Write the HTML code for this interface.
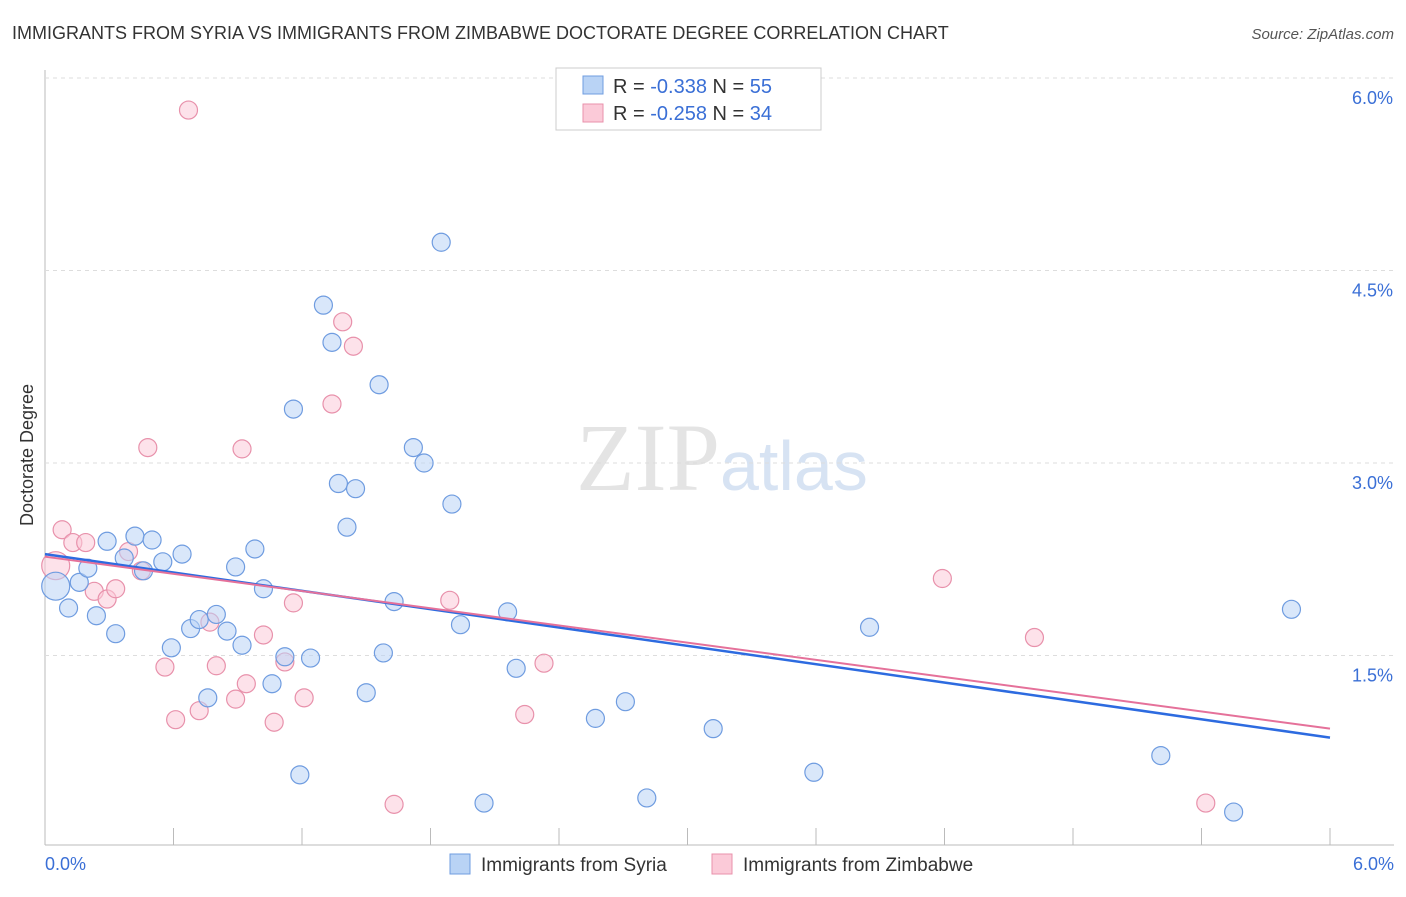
<!DOCTYPE html>
<html><head><meta charset="utf-8"><style>
body{margin:0;background:#fff;font-family:"Liberation Sans",sans-serif}
</style></head><body>
<svg id="c" width="1406" height="892" xmlns="http://www.w3.org/2000/svg">
<text x="12" y="39" font-size="18" fill="#333">IMMIGRANTS FROM SYRIA VS IMMIGRANTS FROM ZIMBABWE DOCTORATE DEGREE CORRELATION CHART</text>
<text x="1394" y="39" font-size="15" fill="#555" font-style="italic" text-anchor="end">Source: ZipAtlas.com</text>
<text x="33" y="455" font-size="18" fill="#333" transform="rotate(-90 33 455)" text-anchor="middle">Doctorate Degree</text>
<text x="720" y="490" font-size="96" fill="#e4e4e4" text-anchor="end" font-family="Liberation Serif">ZIP</text>
<text x="720" y="490" font-size="70" fill="#d7e3f3">atlas</text>
<g id="grid"></g><g id="pts"></g><g id="lines"></g>
<g>
<rect x="556" y="68" width="265" height="62" fill="#fff" stroke="#ccc"/>
<rect x="583" y="76" width="20" height="18" fill="#b9d3f5" stroke="#6f9ce0"/>
<text x="613" y="93" font-size="20" fill="#333">R = <tspan fill="#3a6fd6">-0.338</tspan>   N = <tspan fill="#3a6fd6">55</tspan></text>
<rect x="583" y="104" width="20" height="18" fill="#fbcad8" stroke="#e891ab"/>
<text x="613" y="120" font-size="20" fill="#333">R = <tspan fill="#3a6fd6">-0.258</tspan>   N = <tspan fill="#3a6fd6">34</tspan></text>
</g>
<g>
<rect x="450" y="854" width="20" height="20" fill="#b9d3f5" stroke="#6f9ce0"/>
<text x="481" y="871" font-size="19" fill="#333">Immigrants from Syria</text>
<rect x="712" y="854" width="20" height="20" fill="#fbcad8" stroke="#e891ab"/>
<text x="743" y="871" font-size="19" fill="#333">Immigrants from Zimbabwe</text>
</g>
<text x="45" y="870" font-size="18" fill="#3a6fd6">0.0%</text>
<text x="1394" y="870" font-size="18" fill="#3a6fd6" text-anchor="end">6.0%</text>
</svg>
<script>
const yTicks=[1.5,3.0,4.5,6.0];
const yTickLabels=["1.5%","3.0%","4.5%","6.0%"];
const syriaX=[0.05,0.11,0.16,0.20,0.24,0.29,0.33,0.37,0.42,0.46,0.50,0.55,0.59,0.64,0.68,0.72,0.76,0.80,0.85,0.89,0.92,0.98,1.02,1.06,1.12,1.16,1.19,1.24,1.30,1.34,1.37,1.41,1.45,1.50,1.56,1.58,1.63,1.72,1.77,1.85,1.90,1.94,2.05,2.16,2.20,2.57,2.71,2.81,3.12,3.59,3.85,5.21,5.55,5.82];
const syriaY=[2.04,1.87,2.07,2.18,1.81,2.39,1.67,2.26,2.43,2.16,2.40,2.23,1.56,2.29,1.71,1.78,1.17,1.82,1.69,2.19,1.58,2.33,2.02,1.28,1.49,3.42,0.57,1.48,4.23,3.94,2.84,2.50,2.80,1.21,3.61,1.52,1.92,3.12,3.00,4.72,2.68,1.74,0.35,1.84,1.40,1.01,1.14,0.39,0.93,0.59,1.72,0.72,0.28,1.86];
const zimX=[0.05,0.08,0.13,0.19,0.23,0.29,0.33,0.39,0.45,0.48,0.56,0.61,0.67,0.72,0.77,0.80,0.89,0.92,0.94,1.02,1.07,1.12,1.16,1.21,1.34,1.39,1.44,1.63,1.89,2.24,2.33,4.19,4.62,5.42];
const zimY=[2.20,2.48,2.38,2.38,2.00,1.94,2.02,2.31,2.16,3.12,1.41,1.00,5.75,1.07,1.76,1.42,1.16,3.11,1.28,1.66,0.98,1.45,1.91,1.17,3.46,4.10,3.91,0.34,1.93,1.04,1.44,2.10,1.64,0.35];
const syriaLine=[2.29,0.86];
const zimLine=[2.27,0.93];
const NS="http://www.w3.org/2000/svg";
const X=v=>45+v/6*1285, Y=v=>848-v/6*770;
function mk(t,a,p){const e=document.createElementNS(NS,t);for(const k in a)e.setAttribute(k,a[k]);p.appendChild(e);return e;}
const grid=document.getElementById('grid');
mk('line',{x1:45,y1:70,x2:45,y2:845,stroke:'#bbb'},grid);
mk('line',{x1:45,y1:845,x2:1394,y2:845,stroke:'#bbb'},grid);
for(let i=0;i<=10;i++){const t=mk('line',{x1:X(i*0.6),y1:828,x2:X(i*0.6),y2:845,stroke:'#bbb'},grid);

}
yTicks.forEach((v,i)=>{const l=mk('line',{x1:45,y1:Y(v),x2:1394,y2:Y(v),stroke:'#ddd','stroke-dasharray':'4,4'},grid);


const t=mk('text',{x:1393,y:Y(v)+26,'font-size':18,fill:'#3a6fd6','text-anchor':'end'},grid);t.textContent=yTickLabels[i];

});
const pts=document.getElementById('pts');
function series(xs,ys,fill,stroke,name){xs.forEach((x,i)=>{const c=mk('circle',{cx:X(x),cy:Y(ys[i]),r:i===0?14:9,fill:fill,'fill-opacity':0.55,stroke:stroke,'stroke-width':1.2},pts);

});}
series(zimX,zimY,'#fbcad8','#e891ab','zimbabwe-point');
series(syriaX,syriaY,'#b9d3f5','#6f9ce0','syria-point');
const lines=document.getElementById('lines');
const l1=mk('line',{x1:X(0),y1:Y(syriaLine[0]),x2:X(6),y2:Y(syriaLine[1]),stroke:'#2d6be0','stroke-width':2.5},lines);


const l2=mk('line',{x1:X(0),y1:Y(zimLine[0]),x2:X(6),y2:Y(zimLine[1]),stroke:'#e5719a','stroke-width':2},lines);


</script>
</body></html>
